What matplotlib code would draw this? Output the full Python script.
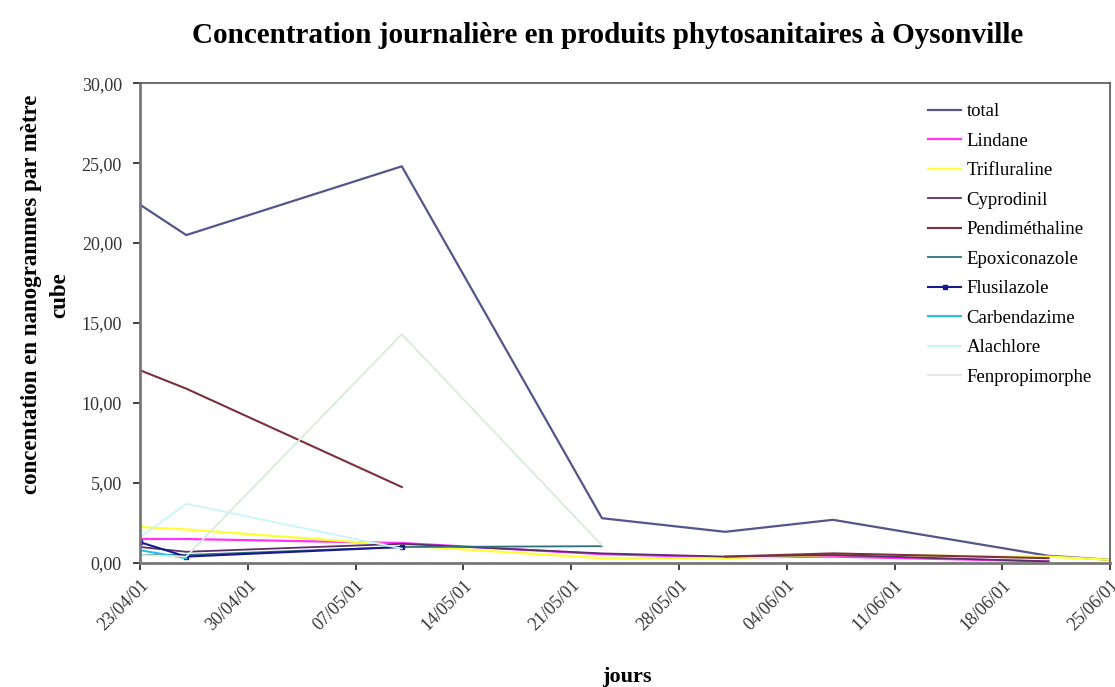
import matplotlib
matplotlib.use("Agg")
import matplotlib.pyplot as plt
import numpy as np
import pandas as pd

plt.rcParams['font.family'] = ['Liberation Serif', 'DejaVu Serif']

dates = ["2001-04-23", "2001-04-26", "2001-05-10", "2001-05-23",
         "2001-05-31", "2001-06-07", "2001-06-21", "2001-06-25"]
nan = np.nan
total = [22.4, 20.5, 24.8, 2.8, 1.95, 2.7, 0.45, 0.2]
lindane = [1.5, 1.5, 1.25, 0.55, 0.35, 0.4, 0.1, nan]
trifluraline = [2.25, 2.1, 1.1, 0.3, 0.3, 0.5, 0.4, 0.2]
cyprodinil = [1.0, 0.7, 1.2, 0.6, 0.4, 0.5, 0.1, nan]
pendimethaline = [12.05, 10.9, 4.75, nan, 0.4, 0.6, 0.3, nan]
epoxiconazole = [0.5, 0.5, 1.0, 1.05, nan, nan, nan, nan]
flusilazole = [1.3, 0.4, 1.0, nan, nan, nan, nan, nan]
carbendazime = [0.8, 0.3, nan, nan, nan, nan, nan, nan]
alachlore = [1.6, 3.7, 0.9, nan, nan, nan, nan, nan]
fenpropimorphe = [0.5, 0.4, 14.3, 1.1, nan, nan, nan, nan]

series = [
    ("total", total, "#55558c", 1.6, None),
    ("Lindane", lindane, "#ff33ff", 1.6, None),
    ("Trifluraline", trifluraline, "#ffff33", 1.6, None),
    ("Cyprodinil", cyprodinil, "#5a2f6a", 1.3, None),
    ("Pendiméthaline", pendimethaline, "#7a3040", 1.5, None),
    ("Epoxiconazole", epoxiconazole, "#2f6e7c", 1.3, None),
    ("Flusilazole", flusilazole, "#1a1a8c", 1.5, "s"),
    ("Carbendazime", carbendazime, "#22c0f0", 1.5, None),
    ("Alachlore", alachlore, "#c8f4fa", 1.3, None),
    ("Fenpropimorphe", fenpropimorphe, "#d8ecd8", 1.3, None),
]

x = pd.to_datetime(dates)

fig = plt.figure(figsize=(11.15, 6.87), dpi=100)
ax = fig.add_axes([0.1256, 0.1805, 0.8700, 0.6985])

for name, vals, col, lw, mk in series:
    y = np.array(vals, dtype=float)
    ax.plot(x, y, color=col, lw=lw, label=name,
            marker=mk, markersize=3 if mk else 0)

ax.set_xlim(pd.Timestamp("2001-04-23"), pd.Timestamp("2001-06-25"))
ax.set_ylim(0, 30)
yt = np.arange(0, 31, 5)
ax.set_yticks(yt)
ax.set_yticklabels([f"{v:.2f}".replace(".", ",") for v in yt],
                   fontsize=13, color="#333333")
ticks = pd.date_range("2001-04-23", "2001-06-25", freq="7D")
ax.set_xticks(ticks)
ax.set_xticklabels([t.strftime("%d/%m/%y") for t in ticks], rotation=45,
                   ha="right", rotation_mode="anchor", fontsize=13, color="#333333")
ax.tick_params(axis="both", direction="out", length=5, width=1.2, color="#222222")
ax.tick_params(axis="y", pad=8)
ax.tick_params(axis="x", pad=5)

for s in ["left", "bottom"]:
    ax.spines[s].set_color("#777777")
    ax.spines[s].set_linewidth(2)
for s in ["top", "right"]:
    ax.spines[s].set_color("#555555")
    ax.spines[s].set_linewidth(1.2)

fig.text(0.041, 0.571, "concentation en nanogrammes par mètre\ncube", rotation=90,
         ha="center", va="center", fontsize=16.5, fontweight="bold",
         linespacing=1.45, multialignment="center")
fig.text(0.562, 0.0145, "jours", ha="center", va="center", fontsize=16,
         fontweight="bold")
fig.text(0.545, 0.948, "Concentration journalière en produits phytosanitaires à Oysonville",
         ha="center", va="center", fontsize=21, fontweight="bold")

leg = ax.legend(loc="upper left", bbox_to_anchor=(0.812, 0.958), frameon=False,
                fontsize=13.5, handlelength=1.8, labelspacing=0.66,
                handletextpad=0.27, borderpad=0, borderaxespad=0)

fig.savefig("out.png", dpi=100, facecolor="white")
